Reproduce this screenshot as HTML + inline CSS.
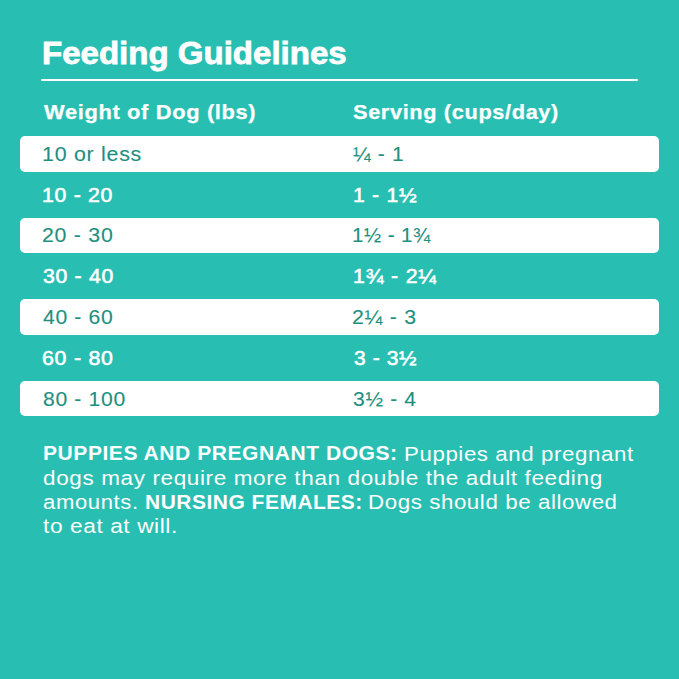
<!DOCTYPE html>
<html><head><meta charset="utf-8"><style>
html,body{margin:0;padding:0;}
body{width:679px;height:679px;background:#29beb2;position:relative;overflow:hidden;font-family:"Liberation Sans",sans-serif;}
.t{position:absolute;white-space:nowrap;line-height:1;transform-origin:0 0;}
.band{position:absolute;left:20px;width:638.5px;height:35.5px;background:#fff;border-radius:5px;}
.rule{position:absolute;left:41px;top:78.5px;width:597px;height:2px;background:#fff;border-radius:1px;}
</style></head><body>
<div class="rule"></div>
<div class="band" style="top:136.00px"></div>
<div class="band" style="top:217.60px"></div>
<div class="band" style="top:299.20px"></div>
<div class="band" style="top:380.80px"></div>
<div class="t" style="left:42.31px;top:37.75px;font-size:31.25px;font-weight:bold;color:#ffffff;-webkit-text-stroke:0.8px #ffffff;letter-spacing:0.000px;transform:scaleX(1.0570)">Feeding Guidelines</div>
<div class="t" style="left:43.63px;top:101.76px;font-size:20.6px;font-weight:bold;color:#ffffff;-webkit-text-stroke:0.25px #ffffff;letter-spacing:0.608px;transform:scaleX(1.0619)">Weight of Dog (lbs)</div>
<div class="t" style="left:352.83px;top:101.76px;font-size:20.6px;font-weight:bold;color:#ffffff;-webkit-text-stroke:0.25px #ffffff;letter-spacing:0.586px;transform:scaleX(1.0573)">Serving (cups/day)</div>
<div class="t" style="left:42.18px;top:144.75px;font-size:19.9px;color:#208f80;-webkit-text-stroke:0.1px #208f80;letter-spacing:0.672px;transform:scaleX(1.0762)">10 or less</div>
<div class="t" style="left:353.35px;top:144.75px;font-size:19.9px;color:#208f80;-webkit-text-stroke:0.1px #208f80;letter-spacing:0.652px;transform:scaleX(1.0610)">¼ - 1</div>
<div class="t" style="left:42.43px;top:185.60px;font-size:19.9px;color:#ffffff;-webkit-text-stroke:0.55px #ffffff;letter-spacing:0.654px;transform:scaleX(1.0683)">10 - 20</div>
<div class="t" style="left:352.53px;top:185.60px;font-size:19.9px;color:#ffffff;-webkit-text-stroke:0.55px #ffffff;letter-spacing:0.681px;transform:scaleX(1.0643)">1 - 1½</div>
<div class="t" style="left:42.18px;top:226.45px;font-size:19.9px;color:#208f80;-webkit-text-stroke:0.1px #208f80;letter-spacing:0.687px;transform:scaleX(1.0725)">20 - 30</div>
<div class="t" style="left:352.32px;top:226.45px;font-size:19.9px;color:#208f80;-webkit-text-stroke:0.1px #208f80;letter-spacing:0.419px;transform:scaleX(1.0359)">1½ - 1¾</div>
<div class="t" style="left:43.49px;top:267.30px;font-size:19.9px;color:#ffffff;-webkit-text-stroke:0.55px #ffffff;letter-spacing:0.655px;transform:scaleX(1.0672)">30 - 40</div>
<div class="t" style="left:352.52px;top:267.30px;font-size:19.9px;color:#ffffff;-webkit-text-stroke:0.55px #ffffff;letter-spacing:0.784px;transform:scaleX(1.0690)">1¾ - 2¼</div>
<div class="t" style="left:43.25px;top:308.15px;font-size:19.9px;color:#208f80;-webkit-text-stroke:0.1px #208f80;letter-spacing:0.614px;transform:scaleX(1.0632)">40 - 60</div>
<div class="t" style="left:352.28px;top:308.15px;font-size:19.9px;color:#208f80;-webkit-text-stroke:0.1px #208f80;letter-spacing:0.718px;transform:scaleX(1.0692)">2¼ - 3</div>
<div class="t" style="left:42.42px;top:349.00px;font-size:19.9px;color:#ffffff;-webkit-text-stroke:0.55px #ffffff;letter-spacing:0.691px;transform:scaleX(1.0724)">60 - 80</div>
<div class="t" style="left:353.59px;top:349.00px;font-size:19.9px;color:#ffffff;-webkit-text-stroke:0.55px #ffffff;letter-spacing:0.593px;transform:scaleX(1.0545)">3 - 3½</div>
<div class="t" style="left:43.25px;top:389.85px;font-size:19.9px;color:#208f80;-webkit-text-stroke:0.1px #208f80;letter-spacing:0.617px;transform:scaleX(1.0628)">80 - 100</div>
<div class="t" style="left:353.35px;top:389.85px;font-size:19.9px;color:#208f80;-webkit-text-stroke:0.1px #208f80;letter-spacing:0.630px;transform:scaleX(1.0591)">3½ - 4</div>
<div class="t" style="left:42.84px;top:444.14px;font-size:19.8px;font-weight:bold;color:#ffffff;letter-spacing:0.508px;transform:scaleX(1.0636)">PUPPIES AND PREGNANT DOGS:</div>
<div class="t" style="left:403.91px;top:443.55px;font-size:20.5px;color:#ffffff;letter-spacing:0.551px;transform:scaleX(1.0852)">Puppies and pregnant</div>
<div class="t" style="left:43.30px;top:467.75px;font-size:20.5px;color:#ffffff;letter-spacing:0.570px;transform:scaleX(1.0976)">dogs may require more than double the adult feeding</div>
<div class="t" style="left:43.20px;top:491.95px;font-size:20.5px;color:#ffffff;letter-spacing:0.566px;transform:scaleX(1.0775)">amounts.</div>
<div class="t" style="left:145.14px;top:492.54px;font-size:19.8px;font-weight:bold;color:#ffffff;letter-spacing:0.488px;transform:scaleX(1.0595)">NURSING FEMALES:</div>
<div class="t" style="left:368.41px;top:491.95px;font-size:20.5px;color:#ffffff;letter-spacing:0.547px;transform:scaleX(1.0866)">Dogs should be allowed</div>
<div class="t" style="left:43.30px;top:516.15px;font-size:20.5px;color:#ffffff;letter-spacing:0.520px;transform:scaleX(1.1077)">to eat at will.</div>
</body></html>
